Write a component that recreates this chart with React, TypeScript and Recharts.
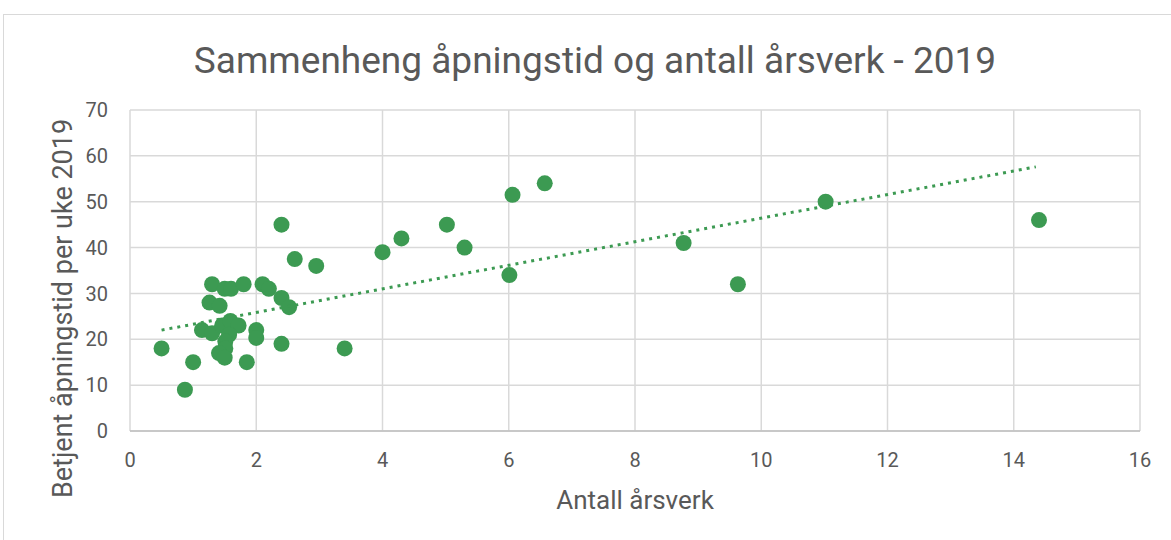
import {
  ScatterChart,
  Scatter,
  XAxis,
  YAxis,
  CartesianGrid,
} from "recharts";

// Antall årsverk (x) og betjent åpningstid per uke (y)
const arsverk = [
  0.5, 0.87, 1.0, 1.3, 1.26, 1.42, 1.5, 1.6, 1.8, 2.1, 2.2, 2.4, 2.52, 1.14,
  1.3, 1.46, 1.59, 1.72, 1.57, 1.51, 1.51, 1.41, 1.5, 1.85, 2.0, 2.0, 2.4,
  3.4, 2.61, 2.95, 2.4, 4.0, 4.3, 5.02, 5.3, 6.06, 6.01, 6.57, 8.77, 9.63,
  11.02, 14.4,
];
const apningstid = [
  18, 9, 15, 32, 28, 27.3, 31, 31, 32, 32, 31, 29, 27, 22, 21.3, 23, 24, 23,
  21, 19.5, 18, 17, 16, 15, 22, 20.3, 19, 18, 37.5, 36, 45, 39, 42, 45, 40,
  51.5, 34, 54, 41, 32, 50, 46,
];

// lineær trendlinje, endepunkter lest av figuren
const trendX = [0.5, 14.35];
const trendY = [22, 57.6];

const xTicks = [0, 2, 4, 6, 8, 10, 12, 14, 16];
const yTicks = [0, 10, 20, 30, 40, 50, 60, 70];

const points = arsverk.map((x, i) => ({ x, y: apningstid[i] }));
const trend = trendX.map((x, i) => ({ x, y: trendY[i] }));

const GREEN = "#3c9a52";
const TEXT = "#595959";

export default function App() {
  return (
    <div
      style={{
        position: "absolute",
        left: 0,
        top: 0,
        width: 1171,
        height: 540,
        background: "#fff",
        overflow: "hidden",
        fontFamily: "Roboto, sans-serif",
      }}
    >
      <div
        style={{
          position: "absolute",
          left: 3,
          top: 14,
          width: 1200,
          height: 560,
          border: "1px solid #d9d9d9",
        }}
      />
      <div
        style={{
          position: "absolute",
          left: 0,
          top: 42,
          width: 1190,
          textAlign: "center",
          fontSize: 37,
          lineHeight: 1,
          color: TEXT,
        }}
      >
        Sammenheng åpningstid og antall årsverk - 2019
      </div>
      <div style={{ position: "absolute", left: 0, top: 0 }}>
        <ScatterChart
          width={1171}
          height={540}
          margin={{ top: 110, right: 31, bottom: 29, left: 20 }}
        >
          <CartesianGrid stroke="#d9d9d9" strokeWidth={1.5} />
          <XAxis
            type="number"
            dataKey="x"
            domain={[0, 16]}
            ticks={xTicks}
            height={80}
            tickLine={false}
            tickSize={0}
            tickMargin={22}
            axisLine={{ stroke: "#bfbfbf", strokeWidth: 1.5 }}
            tick={{ fill: TEXT, fontSize: 20 }}
            label={{
              value: "Antall årsverk",
              position: "insideBottom",
              offset: 2,
              fill: TEXT,
              fontSize: 26,
            }}
          />
          <YAxis
            type="number"
            dataKey="y"
            domain={[0, 70]}
            ticks={yTicks}
            width={110}
            tickLine={false}
            tickSize={0}
            tickMargin={22}
            axisLine={false}
            tick={{ fill: TEXT, fontSize: 20 }}
            label={{
              value: "Betjent åpningstid per uke 2019",
              angle: -90,
              position: "center",
              dx: -13,
              dy: 38,
              fill: TEXT,
              fontSize: 27,
            }}
          />
          <Scatter
            data={points}
            fill={GREEN}
            isAnimationActive={false}
            shape={(p: any) => (
              <circle cx={p.cx} cy={p.cy} r={8} fill={GREEN} />
            )}
          />
          <Scatter
            data={trend}
            isAnimationActive={false}
            line={{
              stroke: GREEN,
              strokeWidth: 3,
              strokeDasharray: "3 5",
            }}
            shape={() => <g />}
          />
        </ScatterChart>
      </div>
    </div>
  );
}
